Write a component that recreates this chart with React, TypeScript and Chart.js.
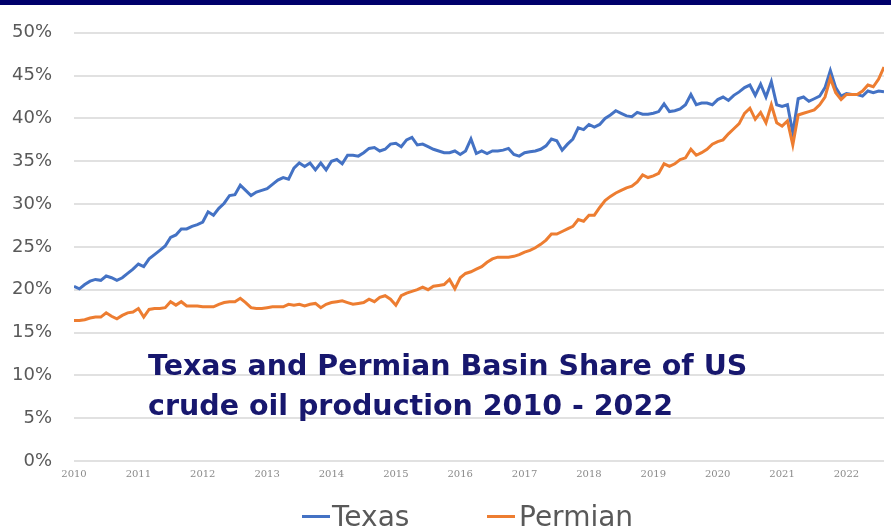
import React, { useEffect, useRef } from 'react';
import { Chart, registerables } from 'chart.js';

Chart.register(...registerables);

// Year tick labels (one per January, monthly data Jan 2010 - Aug 2022)
const YEARS = ['2010', '2011', '2012', '2013', '2014', '2015', '2016', '2017', '2018', '2019', '2020', '2021', '2022'];

const SERIES_NAMES = ['Texas', 'Permian'];
const TITLE_LINES = ['Texas and Permian Basin Share of US', 'crude oil production 2010 - 2022'];

// Texas share of US crude production, % (monthly)
const TEXAS = [
  20.4, 20.1, 20.6, 21.0, 21.2, 21.1, 21.6, 21.4, 21.1, 21.4, 21.9, 22.4,
  23.0, 22.7, 23.6, 24.1, 24.6, 25.1, 26.1, 26.4, 27.1, 27.1, 27.4, 27.6,
  27.9, 29.1, 28.7, 29.5, 30.1, 31.0, 31.1, 32.2, 31.6, 31.0, 31.4, 31.6,
  31.8, 32.3, 32.8, 33.1, 32.9, 34.2, 34.8, 34.4, 34.8, 34.0, 34.8, 34.0,
  35.0, 35.2, 34.7, 35.7, 35.7, 35.6, 36.0, 36.5, 36.6, 36.2, 36.4, 37.0,
  37.1, 36.7, 37.5, 37.8, 36.9, 37.0, 36.7, 36.4, 36.2, 36.0, 36.0, 36.2,
  35.8, 36.2, 37.6, 35.9, 36.2, 35.9, 36.2, 36.2, 36.3, 36.5, 35.8, 35.6,
  36.0, 36.1, 36.2, 36.4, 36.8, 37.6, 37.4, 36.3, 37.0, 37.6, 38.9, 38.7,
  39.3, 39.0, 39.3, 40.0, 40.4, 40.9, 40.6, 40.3, 40.2, 40.7, 40.5, 40.5,
  40.6, 40.8, 41.7, 40.8, 40.9, 41.1, 41.6, 42.8, 41.6, 41.8, 41.8, 41.6,
  42.2, 42.5, 42.1, 42.7, 43.1, 43.6, 43.9, 42.7, 44.0, 42.5, 44.3, 41.6,
  41.4, 41.6, 38.3, 42.3, 42.5, 42.0, 42.3, 42.6, 43.6, 45.6, 43.6, 42.6,
  42.9, 42.8, 42.8, 42.6, 43.2, 43.0, 43.2, 43.1,
];

// Permian Basin share of US crude production, % (monthly)
const PERMIAN = [
  16.4, 16.4, 16.5, 16.7, 16.8, 16.8, 17.3, 16.9, 16.6, 17.0, 17.3, 17.4,
  17.8, 16.8, 17.7, 17.8, 17.8, 17.9, 18.6, 18.2, 18.6, 18.1, 18.1, 18.1,
  18.0, 18.0, 18.0, 18.3, 18.5, 18.6, 18.6, 19.0, 18.5, 17.9, 17.8, 17.8,
  17.9, 18.0, 18.0, 18.0, 18.3, 18.2, 18.3, 18.1, 18.3, 18.4, 17.9, 18.3,
  18.5, 18.6, 18.7, 18.5, 18.3, 18.4, 18.5, 18.9, 18.6, 19.1, 19.3, 18.9,
  18.2, 19.3, 19.6, 19.8, 20.0, 20.3, 20.0, 20.4, 20.5, 20.6, 21.2, 20.1,
  21.4, 21.9, 22.1, 22.4, 22.7, 23.2, 23.6, 23.8, 23.8, 23.8, 23.9, 24.1,
  24.4, 24.6, 24.9, 25.3, 25.8, 26.5, 26.5, 26.8, 27.1, 27.4, 28.2, 28.0,
  28.7, 28.7, 29.6, 30.4, 30.9, 31.3, 31.6, 31.9, 32.1, 32.6, 33.4, 33.1,
  33.3, 33.6, 34.7, 34.4, 34.7, 35.2, 35.4, 36.4, 35.7, 36.0, 36.4, 37.0,
  37.3, 37.5, 38.2, 38.8, 39.4, 40.6, 41.2, 39.9, 40.7, 39.5, 41.6, 39.5,
  39.1, 39.7, 36.9, 40.4, 40.6, 40.8, 41.0, 41.6, 42.5, 44.7, 43.0, 42.2,
  42.8, 42.8, 42.8, 43.2, 43.9, 43.7, 44.6, 46.0,
];

const COLORS = ['#4472c4', '#ed7d31'];
const W = 891;
const H = 531;

export default function App() {
  const canvasRef = useRef<HTMLCanvasElement | null>(null);

  useEffect(() => {
    const canvas = canvasRef.current;
    if (!canvas) return;
    const series = [TEXAS, PERMIAN];
    const chart = new Chart(canvas, {
      type: 'line',
      data: {
        datasets: series.map((vals, k) => ({
          label: SERIES_NAMES[k],
          data: vals.map((v, i) => ({ x: i, y: v })),
          borderColor: COLORS[k],
          backgroundColor: COLORS[k],
          borderWidth: 3,
          pointRadius: 0,
          tension: 0,
          order: k === 0 ? 1 : 0,
        })),
      },
      options: {
        animation: false,
        responsive: false,
        events: [],
        layout: { padding: { top: 16, right: 7, left: 0, bottom: 0 } },
        plugins: {
          legend: { display: false },
          tooltip: { enabled: false },
          title: { display: false },
        },
        scales: {
          x: {
            type: 'linear',
            min: 0,
            max: TEXAS.length - 1,
            grid: { display: false, drawTicks: false },
            border: { display: false },
            ticks: {
              stepSize: 12,
              maxTicksLimit: 20,
              includeBounds: false,
              autoSkip: false,
              maxRotation: 0,
              padding: 7,
              color: '#8a8a8a',
              font: { family: '"DejaVu Serif", serif', size: 10 },
              callback: (v: any) => {
                const n = Number(v);
                return n % 12 === 0 ? YEARS[n / 12] ?? '' : '';
              },
            },
            afterFit: (scale: any) => {
              scale.height = 70;
            },
          },
          y: {
            min: 0,
            max: 50,
            grid: { color: '#e1e1e1', lineWidth: 2, drawTicks: false },
            border: { display: false },
            ticks: {
              stepSize: 5,
              padding: 22,
              color: '#595959',
              font: { family: '"DejaVu Sans", sans-serif', size: 18 },
              callback: (v: any) => `${v}%`,
            },
            afterFit: (scale: any) => {
              scale.width = 74;
            },
          },
        },
      },
    });
    return () => chart.destroy();
  }, []);

  const legendText: React.CSSProperties = {
    position: 'absolute',
    top: 503,
    fontFamily: '"DejaVu Sans", sans-serif',
    fontSize: 28,
    lineHeight: '28px',
    color: '#595959',
    whiteSpace: 'nowrap',
  };
  const legendLine = (left: number, color: string): React.CSSProperties => ({
    position: 'absolute',
    left,
    top: 515,
    width: 28,
    height: 3,
    background: color,
  });

  return (
    <div
      style={{
        position: 'absolute',
        left: 0,
        top: 0,
        width: W,
        height: H,
        background: '#ffffff',
        overflow: 'hidden',
      }}
    >
      <canvas ref={canvasRef} width={W} height={H} style={{ position: 'absolute', left: 0, top: 0, width: W, height: H }} />
      <div style={{ position: 'absolute', left: 0, top: 0, width: W, height: 5, background: '#00006b' }} />
      <div
        style={{
          position: 'absolute',
          left: 148,
          top: 346,
          fontFamily: '"DejaVu Sans", sans-serif',
          fontWeight: 'bold',
          fontSize: 28.5,
          lineHeight: '40px',
          color: '#17176e',
          whiteSpace: 'nowrap',
        }}
      >
        <div>{TITLE_LINES[0]}</div>
        <div>{TITLE_LINES[1]}</div>
      </div>
      <div style={legendLine(302, COLORS[0])} />
      <div style={{ ...legendText, left: 332 }}>{SERIES_NAMES[0]}</div>
      <div style={legendLine(487, COLORS[1])} />
      <div style={{ ...legendText, left: 519 }}>{SERIES_NAMES[1]}</div>
    </div>
  );
}
